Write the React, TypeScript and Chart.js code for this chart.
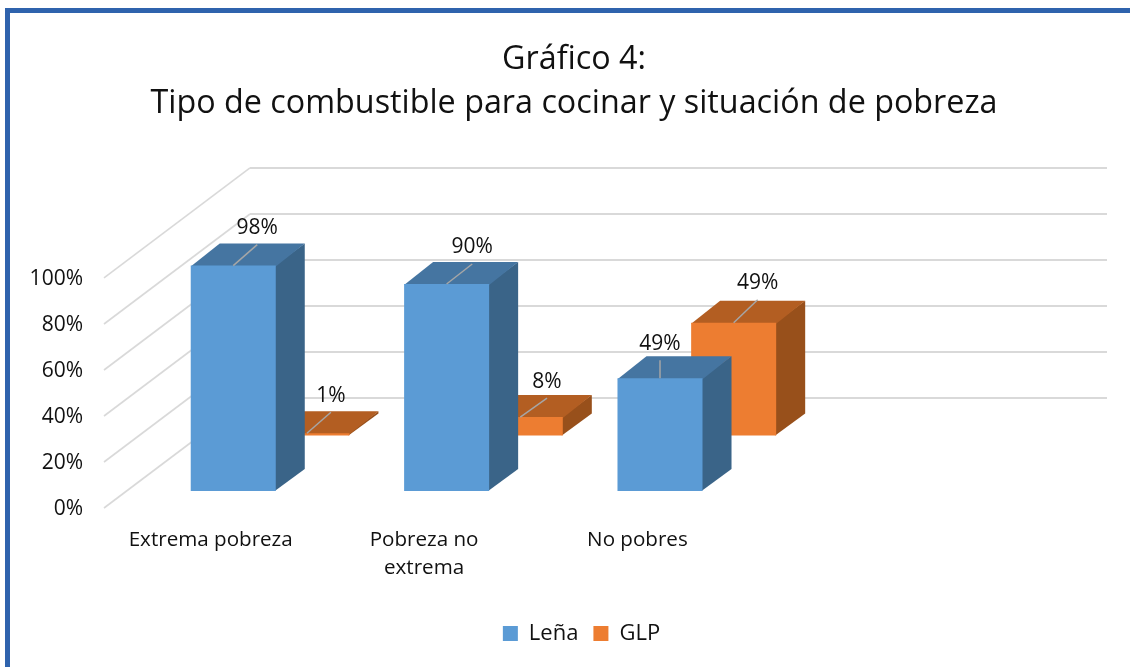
import React, { useEffect, useRef } from "react";
import { Chart, registerables } from "chart.js";

Chart.register(...registerables);

const categories = ["Extrema pobreza", ["Pobreza no", "extrema"], "No pobres", ""];
const lenaValues = [98, 90, 49, null];
const glpValues = [1, 8, 49, null];
const tickStep = 20;
const titleLines = ["Gráfico 4:", "Tipo de combustible para cocinar y situación de pobreza"];

const FONT = "'Open Sans', sans-serif";
const TEXT = "#111111";
const GRID = "#d9d9d9";
const WALL_DX = 146;
const WALL_DY = 110;
const WALL_END = 149.5;
const BAR_DX = 29;
const BAR_DY = 22;
const SLOPE = WALL_DX / WALL_DY;

// Drawing style per series, back-most first when painted.
const faces = [
  { front: "#5b9bd5", top: "#4575a1", side: "#3a6488", depth: 17 },
  { front: "#ed7d31", top: "#b35e22", side: "#98501b", depth: 72.5 },
];
// Leader line offset from the top-centre of each bar's front face.
const leaders = [
  [[24, -21], [25.6, -20], [0, -18]],
  [[24, -21], [26.7, -19], [24, -23]],
];

const poly = (ctx: CanvasRenderingContext2D, pts: number[][], fill: string) => {
  ctx.beginPath();
  pts.forEach(([x, y], i) => (i ? ctx.lineTo(x, y) : ctx.moveTo(x, y)));
  ctx.closePath();
  ctx.fillStyle = fill;
  ctx.fill();
};

const frame3d = {
  id: "frame3d",
  afterLayout(chart: any) {
    const { titleBlock, legend } = chart;
    titleBlock.left = 18;
    titleBlock.right = 1130;
    legend.left = 33;
    legend.right = 1130;
  },
  beforeDraw(chart: any) {
    const { ctx, width, height } = chart;
    ctx.save();
    ctx.fillStyle = "#ffffff";
    ctx.fillRect(0, 0, width, height);
    ctx.fillStyle = "#2f63ad";
    ctx.fillRect(5, 8, width - 5, 5);
    ctx.fillRect(5, 8, 5, height - 8);
    ctx.restore();
  },
  beforeDatasetsDraw(chart: any) {
    const { ctx, chartArea, scales } = chart;
    ctx.save();
    ctx.strokeStyle = GRID;
    scales.y.ticks.forEach((t: any) => {
      const y = scales.y.getPixelForValue(t.value);
      ctx.lineWidth = 1.6;
      ctx.beginPath();
      ctx.moveTo(chartArea.left, y);
      ctx.lineTo(chartArea.left + WALL_DX, y - WALL_DY);
      ctx.stroke();
      ctx.lineWidth = 2;
      ctx.beginPath();
      ctx.moveTo(chartArea.left + WALL_DX, y - WALL_DY);
      ctx.lineTo(chartArea.right + WALL_END, y - WALL_DY);
      ctx.stroke();
    });
    ctx.restore();
  },
  // The flat bars are replaced by the extruded ones below.
  beforeDatasetDraw() {
    return false;
  },
  afterDatasetsDraw(chart: any) {
    const { ctx } = chart;
    ctx.save();
    [1, 0].forEach((ds) => {
      const f = faces[ds];
      const ox = f.depth * SLOPE;
      const oy = -f.depth;
      chart.getDatasetMeta(ds).data.forEach((el: any, i: number) => {
        if (chart.data.datasets[ds].data[i] == null) return;
        const half = el.width / 2;
        const l = el.x - half + ox;
        const r = el.x + half + ox;
        const t = el.y + oy;
        const b = el.base + oy;
        // Faces overlap slightly underneath the front so no seam shows what is behind.
        poly(ctx, [[r - 1, t], [r + BAR_DX, t - BAR_DY], [r + BAR_DX, b - BAR_DY], [r - 1, b]], f.side);
        poly(ctx, [[l, t + 1], [r, t + 1], [r + BAR_DX, t - BAR_DY], [l + BAR_DX, t - BAR_DY]], f.top);
        poly(ctx, [[l, t], [r, t], [r, b], [l, b]], f.front);
      });
    });
    [1, 0].forEach((ds) => {
      const f = faces[ds];
      const ox = f.depth * SLOPE;
      chart.getDatasetMeta(ds).data.forEach((el: any, i: number) => {
        const v = chart.data.datasets[ds].data[i];
        if (v == null) return;
        const sx = el.x + ox;
        const sy = el.y - f.depth;
        const [dx, dy] = leaders[ds][i];
        ctx.strokeStyle = "#a6a6a6";
        ctx.lineWidth = 1.5;
        ctx.beginPath();
        ctx.moveTo(sx, sy);
        ctx.lineTo(sx + dx, sy + dy);
        ctx.stroke();
        ctx.fillStyle = TEXT;
        ctx.font = `21px ${FONT}`;
        ctx.textAlign = "center";
        ctx.textBaseline = "middle";
        ctx.fillText(`${v}%`, sx + dx, sy + dy - 16.5);
      });
    });
    ctx.restore();
  },
};

export default function App() {
  const ref = useRef<HTMLCanvasElement | null>(null);
  useEffect(() => {
    const chart = new Chart(ref.current as HTMLCanvasElement, {
      type: "bar",
      data: {
        labels: categories as any,
        datasets: [
          { label: "Leña", data: lenaValues, backgroundColor: faces[0].front },
          { label: "GLP", data: glpValues, backgroundColor: faces[1].front },
        ],
      },
      plugins: [frame3d],
      options: {
        responsive: false,
        animation: false,
        datasets: { bar: { grouped: false, barPercentage: 0.3985, categoryPercentage: 1 } },
        layout: { padding: { top: 37.5, right: 172.5, left: 0, bottom: 12.5 } },
        scales: {
          x: {
            grid: { display: false, drawTicks: false },
            border: { display: false },
            ticks: {
              padding: 18,
              autoSkip: false,
              maxRotation: 0,
              color: TEXT,
              font: { family: FONT, size: 20.6, lineHeight: 1.36 },
            },
            afterFit: (s: any) => {
              s.height = 99.5;
            },
          },
          y: {
            min: 0,
            max: 100,
            grid: { display: false, drawTicks: false },
            border: { display: false },
            ticks: {
              stepSize: tickStep,
              padding: 21,
              labelOffset: 1,
              color: TEXT,
              font: { family: FONT, size: 21 },
              callback: (v: any) => `${v}%`,
            },
            afterFit: (s: any) => {
              s.width = 104;
            },
          },
        },
        plugins: {
          tooltip: { enabled: false },
          title: {
            display: true,
            text: titleLines,
            color: TEXT,
            font: { family: FONT, size: 32.3, weight: "normal", lineHeight: 1.362 },
            padding: { top: 0, bottom: 152.5 },
          },
          legend: {
            position: "bottom",
            labels: {
              boxWidth: 15,
              boxHeight: 15,
              padding: 15,
              color: TEXT,
              font: { family: FONT, size: 22 },
            },
          },
        },
      },
    } as any);
    return () => chart.destroy();
  }, []);
  return (
    <div style={{ position: "absolute", left: 0, top: 0, width: 1130, height: 667 }}>
      <canvas ref={ref} width={1130} height={667} style={{ display: "block" }} />
    </div>
  );
}
